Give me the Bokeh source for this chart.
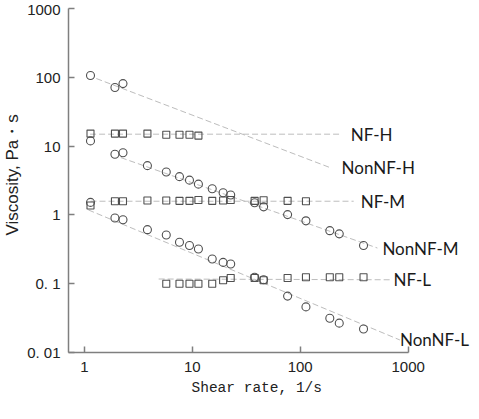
from bokeh.plotting import figure
from bokeh.models import Range1d, FixedTicker, ColumnDataSource, Title
from bokeh.core.properties import value
from bokeh.embed import file_html
from bokeh.resources import INLINE

# ---------------- data ----------------
shear = [1.14, 1.92, 2.28, 3.84, 5.74, 7.61, 9.42, 11.4, 15.3, 19.3, 22.7,
         37.8, 45.8, 76.4, 113, 188, 230, 386]

nonnf_h_x = shear[:3]
nonnf_h_y = [106, 71, 81]

nf_h_x = shear[:8]
nf_h_y = [15.2, 15.2, 15.2, 15.2, 14.6, 14.6, 14.6, 14.2]

nonnf_m_x = shear
nonnf_m_y = [11.9, 7.6, 8.0, 5.2, 4.2, 3.6, 3.2, 2.8, 2.4, 2.1, 1.95,
             1.5, 1.31, 1.01, 0.82, 0.59, 0.53, 0.36]

nf_m_x = shear[:15]
nf_m_y = [1.37, 1.58, 1.58, 1.62, 1.62, 1.6, 1.6, 1.65, 1.6, 1.62, 1.65,
          1.6, 1.63, 1.6, 1.58]

nonnf_l_x = shear
nonnf_l_y = [1.52, 0.90, 0.85, 0.61, 0.51, 0.40, 0.36, 0.32, 0.228, 0.204,
             0.193, 0.124, 0.114, 0.066, 0.046, 0.0315, 0.0267, 0.022]

nf_l_x = shear[4:]
nf_l_y = [0.100, 0.100, 0.100, 0.100, 0.100, 0.112, 0.121, 0.121, 0.112,
          0.121, 0.124, 0.124, 0.124, 0.124]

# trend lines (start/end) and their names
series_names = ["NF-H", "NonNF-H", "NF-M", "NonNF-M", "NF-L", "NonNF-L"]
trend_x = [[1.13, 238], [1.29, 191], [1.14, 313], [2.18, 519], [4.88, 703], [1.09, 839]]
trend_y = [[14.9, 14.9], [96, 4.84], [1.58, 1.58], [6.8, 0.33], [0.117, 0.114], [1.18, 0.0152]]

x_ticks = [1, 10, 100, 1000]
y_ticks = [0.01, 0.1, 1, 10, 100, 1000]
y_tick_labels = {0.01: "0. 01", 0.1: "0. 1", 1: "1", 10: "10", 100: "100", 1000: "1000"}
x_title = "Shear rate, 1/s"
y_title = "Viscosity, Pa・s"

# ---------------- figure ----------------
p = figure(width=471, height=403, x_axis_type="log", y_axis_type="log",
           x_range=Range1d(0.713, 3864), y_range=Range1d(0.01, 1000),
           output_backend="svg", toolbar_location=None,
           min_border_left=64, min_border_top=8, min_border_right=0,
           min_border_bottom=51)
p.outline_line_color = None
p.xgrid.visible = False
p.ygrid.visible = False
p.background_fill_color = "white"
p.border_fill_color = "white"

axis_col = "#7f7f7f"
for ax in (p.xaxis[0], p.yaxis[0]):
    ax.axis_line_color = axis_col
    ax.axis_line_width = 1.5
    ax.major_tick_line_color = axis_col
    ax.major_tick_line_width = 1.5
    ax.major_tick_in = 6
    ax.major_tick_out = 0
    ax.minor_tick_line_color = None
    ax.major_label_text_font = "Liberation Sans"
    ax.major_label_text_font_size = "15px"
    ax.major_label_text_color = "#222222"

p.xaxis[0].ticker = FixedTicker(ticks=x_ticks)
p.yaxis[0].ticker = FixedTicker(ticks=y_ticks)
p.yaxis[0].major_label_overrides = y_tick_labels
p.xaxis[0].major_label_overrides = {t: str(t) for t in x_ticks}
p.xaxis[0].bounds = (0.713, 1000)
p.xaxis[0].major_label_standoff = 9
p.yaxis[0].major_label_standoff = 8

# axis titles (as side titles so they can be placed like the original)
p.add_layout(Title(text=x_title, align="left", offset=123, standoff=8,
                   vertical_align="middle",
                   text_font="Liberation Mono", text_font_size="14.5px",
                   text_font_style="normal", text_color="#222222"), "below")
p.add_layout(Title(text=y_title, align="left", offset=117, standoff=3,
                   vertical_align="middle",
                   text_font="Liberation Sans", text_font_size="17px",
                   text_font_style="normal", text_color="#222222"), "left")

# trend lines
for tx, ty in zip(trend_x, trend_y):
    p.line(tx, ty, line_color="#bdbdbd", line_width=1, line_dash="6 3")

# markers
mk_col = "#505050"
for xs, ys in [(nonnf_h_x, nonnf_h_y), (nonnf_m_x, nonnf_m_y), (nonnf_l_x, nonnf_l_y)]:
    p.scatter(xs, ys, marker="circle", size=8, fill_alpha=0,
              line_color=mk_col, line_width=1.1)
for xs, ys in [(nf_h_x, nf_h_y), (nf_m_x, nf_m_y), (nf_l_x, nf_l_y)]:
    p.scatter(xs, ys, marker="square", size=7, fill_alpha=0,
              line_color=mk_col, line_width=1.1)

# series labels at the ends of the trend lines
label_offsets = [10, 11, 7, 5, 2, 0]
lab_src = ColumnDataSource(dict(
    x=[t[1] for t in trend_x],
    y=[t[1] for t in trend_y],
    text=series_names,
    dx=label_offsets,
))
p.text(x="x", y="y", text="text", x_offset="dx", source=lab_src,
       text_font=value("Lato"), text_font_size="17px",
       text_color="#1a1a1a", text_baseline="middle", text_align="left")

open("out.html", "w").write(file_html(p, INLINE))
